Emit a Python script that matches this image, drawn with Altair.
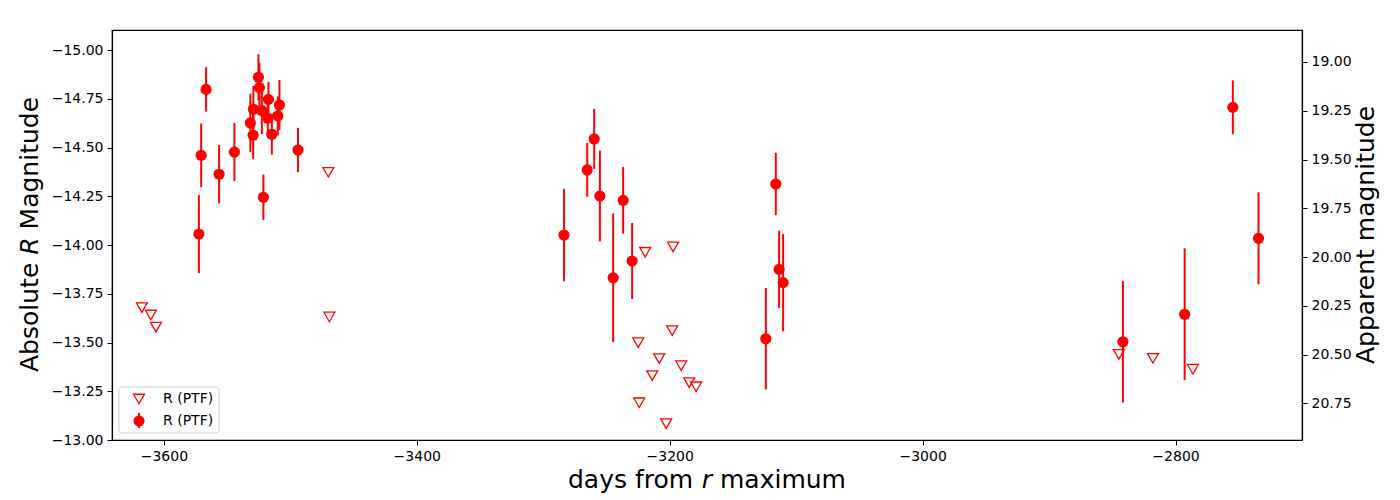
import altair as alt
import pandas as pd

# Detections (days from r maximum, absolute R magnitude, error)
det_days = [-3566.6, -3570.5, -3572.3, -3556.3, -3544.2, -3531.6, -3529.4, -3529.2, -3525.2,
            -3524.4, -3522.5, -3521.3, -3517.3, -3517.8, -3514.6, -3509.9, -3508.6, -3493.9,
            -3283.6, -3265.2, -3259.7, -3255.2, -3244.7, -3236.8, -3229.7,
            -3116.1, -3113.5, -3110.3, -3124.0,
            -2841.6, -2792.8, -2754.7, -2734.4]
det_mag = [-14.798, -14.46, -14.056, -14.363, -14.477, -14.626, -14.563, -14.696, -14.86,
           -14.807, -14.689, -14.245, -14.747, -14.65, -14.568, -14.662, -14.718, -14.487,
           -14.051, -14.385, -14.544, -14.251, -13.832, -14.229, -13.918,
           -14.313, -13.875, -13.807, -13.519,
           -13.504, -13.645, -14.706, -14.034]
det_err = [0.114, 0.163, 0.20, 0.15, 0.149, 0.15, 0.123, 0.12, 0.118,
           0.128, 0.12, 0.116, 0.09, 0.1, 0.105, 0.1, 0.128, 0.114,
           0.237, 0.138, 0.154, 0.233, 0.33, 0.171, 0.195,
           0.16, 0.198, 0.25, 0.26,
           0.312, 0.338, 0.138, 0.236]

# Upper limits
lim_days = [-3617.4, -3610.3, -3606.3, -3469.1, -3469.9,
            -3219.4, -3197.3, -3198.0, -3224.9, -3208.3, -3190.9, -3213.8, -3184.6,
            -3179.1, -3224.1, -3202.8,
            -2844.8, -2817.9, -2786.3]
lim_mag = [-13.679, -13.641, -13.579, -13.631, -14.373,
           -13.963, -13.990, -13.561, -13.499, -13.417, -13.381, -13.330, -13.294,
           -13.273, -13.191, -13.084,
           -13.439, -13.419, -13.363]

x_ticks = [-3600, -3400, -3200, -3000, -2800]
left_ticks = [-15.0, -14.75, -14.5, -14.25, -14.0, -13.75, -13.5, -13.25, -13.0]
right_ticks = [19.0, 19.25, 19.5, 19.75, 20.0, 20.25, 20.5, 20.75]
distance_modulus = 33.938
legend_labels = ["R (PTF)", "R (PTF)"]
x_title_parts = ["days from", "r", "maximum"]
y_title_parts = ["Absolute", "R", "Magnitude"]
right_title = "Apparent magnitude"

RED = "#ff0000"
FONT = "DejaVu Sans"
TFS = 25

det = pd.DataFrame({"day": det_days, "mag": det_mag, "err": det_err})
det["lo"] = det["mag"] - det["err"]
det["hi"] = det["mag"] + det["err"]
det["app"] = det["mag"] + distance_modulus
lim = pd.DataFrame({"day": lim_days, "mag": lim_mag})

x_scale = alt.Scale(domain=[-3641, -2700], nice=False, zero=False)
y_scale = alt.Scale(domain=[-15.1026, -13.0], nice=False, zero=False, reverse=True)
x_axis = alt.Axis(values=x_ticks, format="d", title=None, labelPadding=4)
y_axis = alt.Axis(values=left_ticks, format=".2f", title=None, labelPadding=4)

X = alt.X("day:Q", scale=x_scale, axis=x_axis)

errbars = alt.Chart(det).mark_rule(color=RED, strokeWidth=2).encode(
    x=X,
    y=alt.Y("lo:Q", scale=y_scale, axis=y_axis),
    y2="hi:Q",
)
limits = alt.Chart(lim).mark_point(shape="triangle-down", filled=False, color=RED,
                                   size=120, strokeWidth=1.3, opacity=1).encode(
    x=X,
    y=alt.Y("mag:Q", scale=y_scale, axis=y_axis),
)
points = alt.Chart(det).mark_circle(color=RED, size=125, opacity=1).encode(
    x=X,
    y=alt.Y("mag:Q", scale=y_scale, axis=y_axis),
)

one = pd.DataFrame({"k": [0]})


def txt(s, x, y, **kw):
    return alt.Chart(one).mark_text(text=s, font=FONT, color="black", **kw).encode(
        x=alt.value(x), y=alt.value(y))


# legend (drawn inside the plot, lower left)
leg_box = alt.Chart(one).mark_rect(fill="white", fillOpacity=0.8, stroke="#d0d0d0",
                                   strokeWidth=1, cornerRadius=3).encode(
    x=alt.value(7), x2=alt.value(107), y=alt.value(357), y2=alt.value(403))
leg_tri = alt.Chart(one).mark_point(shape="triangle-down", filled=False, color=RED,
                                    size=120, strokeWidth=1.3, opacity=1).encode(
    x=alt.value(27), y=alt.value(369))
leg_bar = alt.Chart(one).mark_rule(color=RED, strokeWidth=2).encode(
    x=alt.value(27), y=alt.value(383), y2=alt.value(398))
leg_dot = alt.Chart(one).mark_circle(color=RED, size=125, opacity=1).encode(
    x=alt.value(27), y=alt.value(391))
leg_t1 = txt(legend_labels[0], 51, 369, align="left", baseline="middle", fontSize=14)
leg_t2 = txt(legend_labels[1], 51, 391, align="left", baseline="middle", fontSize=14)

# axis titles with italic symbols (space width at 25px ~ 7.95px)
xt1 = txt(x_title_parts[0], 456, 458, align="left", baseline="alphabetic", fontSize=TFS)
xt2 = txt(x_title_parts[1], 589.7, 458, align="left", baseline="alphabetic", fontSize=TFS,
          fontStyle="italic")
xt3 = txt(x_title_parts[2], 608, 458, align="left", baseline="alphabetic", fontSize=TFS)
yt1 = txt(y_title_parts[0], -74, 342, align="left", baseline="alphabetic", fontSize=TFS,
          angle=270)
yt2 = txt(y_title_parts[1], -74, 224.8, align="left", baseline="alphabetic", fontSize=TFS,
          angle=270, fontStyle="italic")
yt3 = txt(y_title_parts[2], -74, 199.4, align="left", baseline="alphabetic", fontSize=TFS,
          angle=270)
rt = txt(right_title, 1262, 205, align="center", baseline="alphabetic", fontSize=TFS,
         angle=270)

left = alt.layer(errbars, limits, points, leg_box, leg_tri, leg_bar, leg_dot, leg_t1, leg_t2,
                 xt1, xt2, xt3, yt1, yt2, yt3, rt)

right = alt.Chart(det).mark_point(opacity=0).encode(
    x=X,
    y=alt.Y("app:Q",
            scale=alt.Scale(domain=[18.836, 20.938], nice=False, zero=False, reverse=True),
            axis=alt.Axis(values=right_ticks, format=".2f", orient="right", title=None,
                          labelPadding=4)),
)

chart = alt.layer(left, right).resolve_scale(y="independent").properties(
    width=1190, height=410,
    autosize=alt.AutoSizeParams(type="none"),
    padding={"left": 104, "top": 22, "right": 90, "bottom": 60},
).configure_view(stroke="black", strokeWidth=1.2).configure_axis(
    labelFont=FONT, labelFontSize=14, labelColor="black",
    domainColor="black", tickColor="black",
    tickSize=5, grid=False, domainWidth=1.2, tickWidth=1,
)

chart.save("out.html", embed_options={"renderer": "svg", "actions": False})
